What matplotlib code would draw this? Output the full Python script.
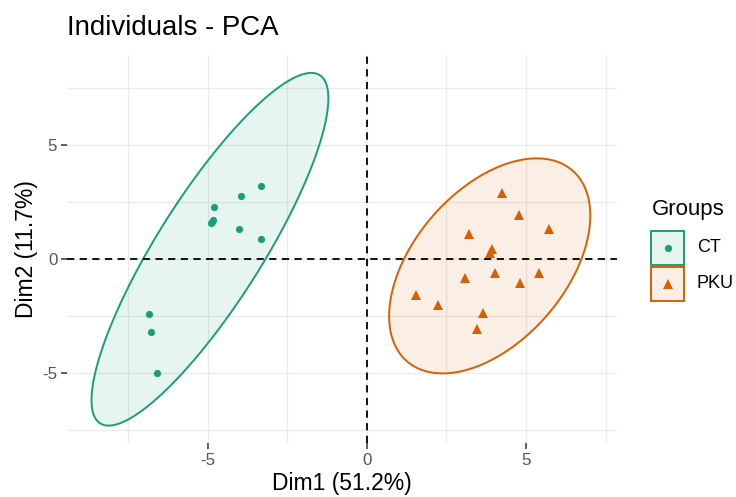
import numpy as np
import matplotlib
matplotlib.use("Agg")
import matplotlib.pyplot as plt
from matplotlib.patches import Polygon, Rectangle
from matplotlib.lines import Line2D

plt.rcParams['font.family'] = ['Liberation Sans', 'DejaVu Sans']

# ---- data ----
groups = ["CT", "PKU"]
ct_dim1 = [-3.34, -3.95, -4.81, -4.83, -4.87, -4.90, -4.03, -3.32, -6.86, -6.79, -6.60]
ct_dim2 = [3.20, 2.78, 2.29, 1.71, 1.64, 1.56, 1.30, 0.88, -2.43, -3.20, -5.01]
pku_dim1 = [4.26, 4.79, 5.71, 3.22, 3.93, 3.87, 3.09, 4.03, 5.42, 4.82, 1.54, 2.23, 3.65, 3.46]
pku_dim2 = [2.88, 1.92, 1.30, 1.10, 0.44, 0.28, -0.83, -0.63, -0.60, -1.04, -1.56, -2.03, -2.38, -3.06]
xticks = [-5, 0, 5]
yticks = [-5, 0, 5]
title = "Individuals - PCA"
xlabel = "Dim1 (51.2%)"
ylabel = "Dim2 (11.7%)"
legend_title = "Groups"
level = 0.95

colors = {"CT": "#1B9E77", "PKU": "#D95F02"}
markers = {"CT": "o", "PKU": "^"}
msize = {"CT": 5.2, "PKU": 6.6}


def norm_ellipse(x, y, level, npts=200):
    pts = np.column_stack([x, y])
    n = len(pts)
    center = pts.mean(axis=0)
    cov = np.cov(pts.T)
    dfd = n - 1
    fq = (dfd / 2.0) * ((1 - level) ** (-2.0 / dfd) - 1)  # F(2, dfd) quantile
    radius = np.sqrt(2 * fq)
    R = np.linalg.cholesky(cov).T
    t = np.linspace(0, 2 * np.pi, npts)
    circ = np.column_stack([np.cos(t), np.sin(t)])
    return center + radius * circ @ R


fig = plt.figure(figsize=(7.36, 4.97), dpi=100)
ax = fig.add_axes([67 / 736, 1 - 443 / 497, 550 / 736, 388 / 497])

ax.set_xlim(-9.43, 7.86)
ax.set_ylim(-8.07, 8.95)

# grid
for v in [-7.5, -5, -2.5, 0, 2.5, 5, 7.5]:
    ax.axvline(v, color="#EBEBEB", lw=1.0, zorder=0)
    ax.axhline(v, color="#EBEBEB", lw=1.0, zorder=0)

data = {"CT": (ct_dim1, ct_dim2), "PKU": (pku_dim1, pku_dim2)}
for g in groups:
    x, y = data[g]
    e = norm_ellipse(x, y, level)
    ax.add_patch(Polygon(e, closed=True, facecolor=colors[g], alpha=0.1, edgecolor="none", zorder=1))
    ax.add_patch(Polygon(e, closed=True, facecolor="none", edgecolor=colors[g], lw=1.4, zorder=2))

ax.axvline(0, color="black", lw=1.3, ls=(0, (4, 3)), zorder=3)
ax.axhline(0, color="black", lw=1.3, ls=(0, (4, 3)), zorder=3)

for g in groups:
    x, y = data[g]
    ax.plot(x, y, ls="none", marker=markers[g], color=colors[g], ms=msize[g], mew=0, zorder=4)

for s in ax.spines.values():
    s.set_visible(False)
ax.set_xticks(xticks)
ax.set_yticks(yticks)
ax.set_xticklabels([str(v) for v in xticks])
ax.set_yticklabels([str(v) for v in yticks])
ax.tick_params(axis="both", length=4, width=1.1, color="#333333", labelcolor="#555555",
               labelsize=12.2, pad=3)
ax.set_xlabel(xlabel, fontsize=16.5, color="black", labelpad=3)
ax.set_ylabel(ylabel, fontsize=16.5, color="black", labelpad=3)
fig.text(67 / 736, 1 - 28 / 497, title, fontsize=19.9, color="black", va="center", ha="left")

# legend
fig.text(652 / 736, 1 - 209 / 497, legend_title, fontsize=16, va="center", ha="left")
box_h = 34
for i, g in enumerate(groups):
    top = 231 + i * 36
    rx0 = 651 / 736
    ry0 = 1 - (top + box_h) / 497
    fig.add_artist(Rectangle((rx0, ry0), 33 / 736, box_h / 497, transform=fig.transFigure,
                             facecolor=colors[g], alpha=0.1, edgecolor="none"))
    fig.add_artist(Rectangle((rx0, ry0), 33 / 736, box_h / 497, transform=fig.transFigure,
                             facecolor="none", edgecolor=colors[g], lw=1.4))
    cy = 1 - (top + box_h / 2) / 497
    fig.add_artist(Line2D([rx0 + 16.5 / 736], [cy], marker=markers[g], color=colors[g],
                          ms=msize[g], mew=0, transform=fig.transFigure))
    fig.text(697 / 736, cy, g, fontsize=13, va="center", ha="left")

fig.savefig("out.png", dpi=100)
